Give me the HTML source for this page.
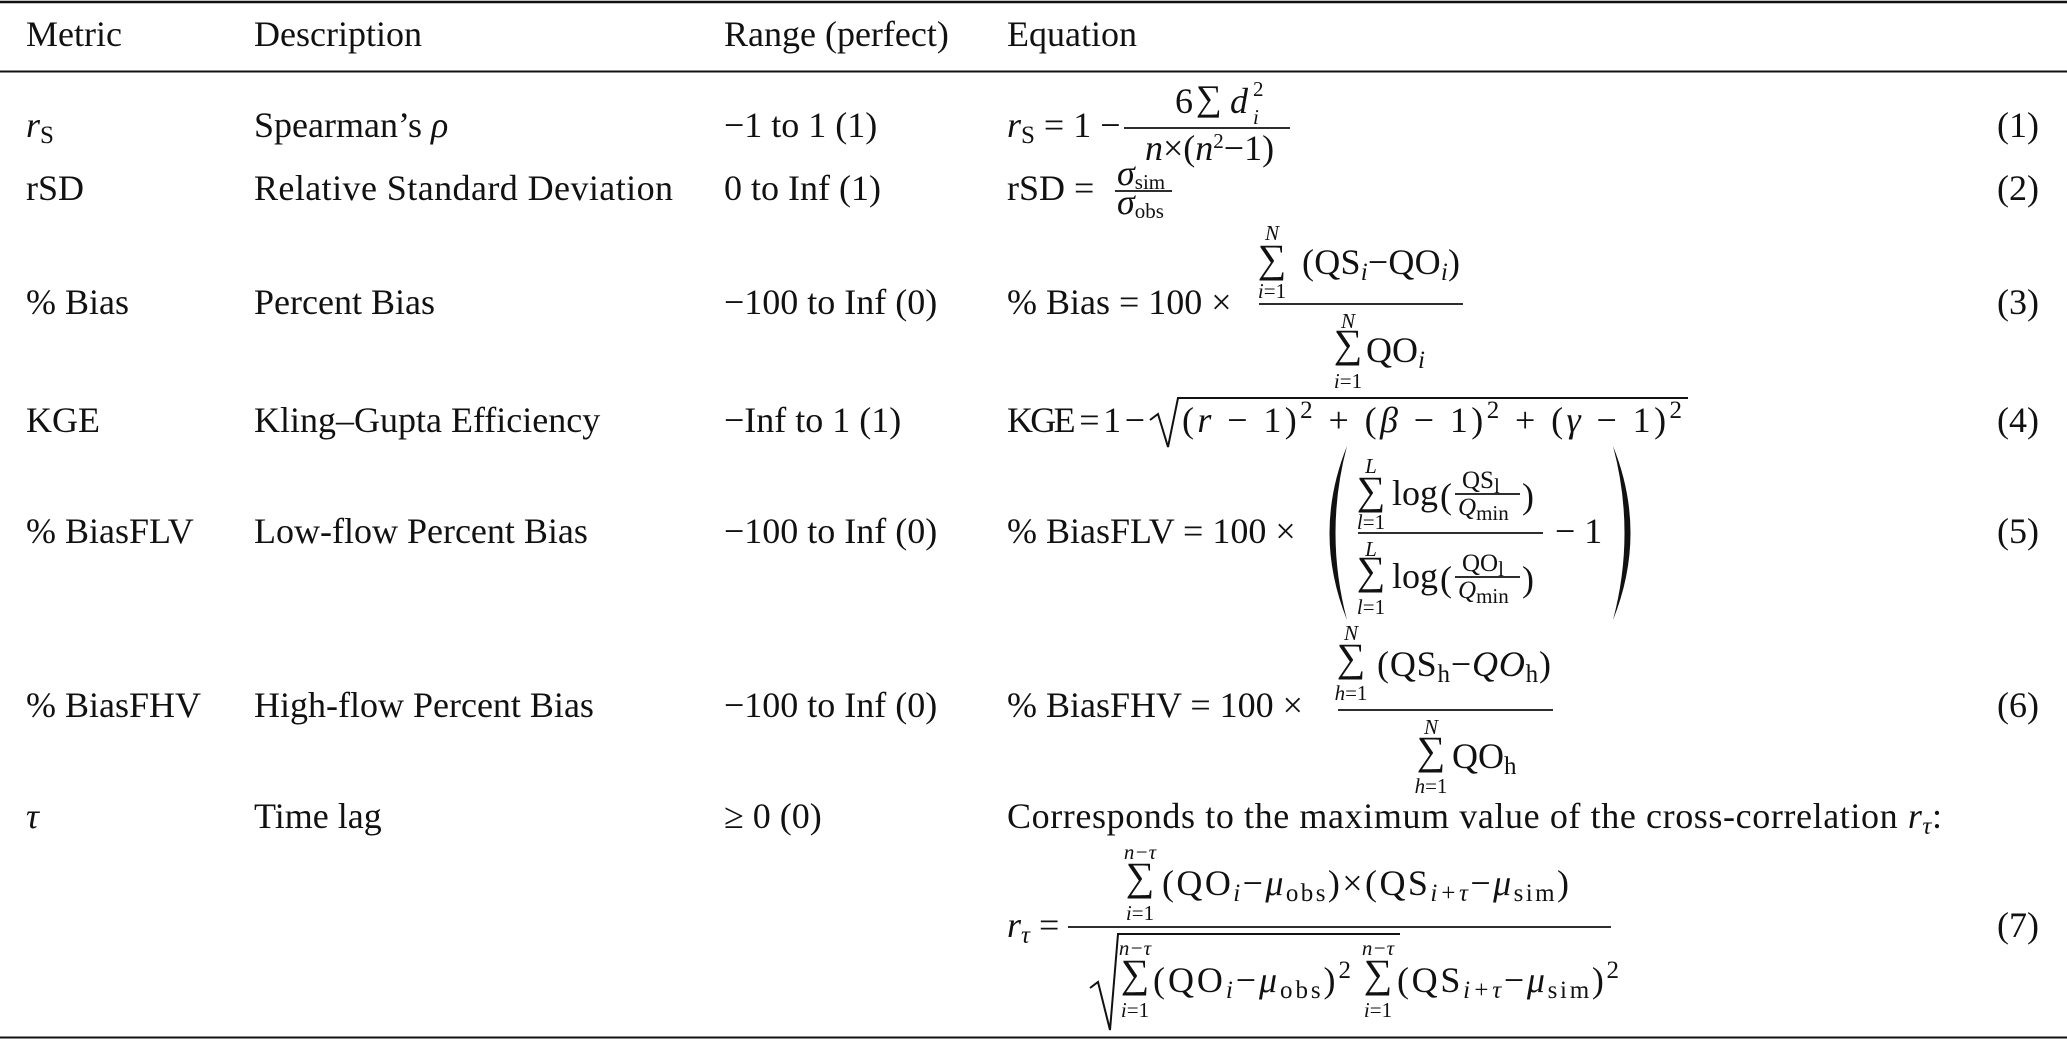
<!DOCTYPE html>
<html><head><meta charset="utf-8"><style>
html,body{margin:0;padding:0;background:#fff;}
svg{display:block;}
text{font-family:"Liberation Serif","DejaVu Serif",serif;font-size:36px;fill:#111;}
.i{font-style:italic;}
.s{font-size:25px;}
.xs{font-size:21px;}
.sg{font-size:40px;}
.m{text-anchor:middle;}
</style></head><body>
<svg width="2067" height="1041" viewBox="0 0 2067 1041" xmlns="http://www.w3.org/2000/svg">
<rect x="0" y="0" width="2067" height="1041" fill="#fff"/>
<g stroke="#111" fill="none">
<line x1="0" y1="2" x2="2067" y2="2" stroke-width="2.5"/>
<line x1="0" y1="71.5" x2="2067" y2="71.5" stroke-width="2"/>
<line x1="0" y1="1037.5" x2="2067" y2="1037.5" stroke-width="2"/>
</g>
<!-- header -->
<text x="26" y="46">Metric</text>
<text x="254" y="46">Description</text>
<text x="724" y="46">Range (perfect)</text>
<text x="1007" y="46">Equation</text>

<!-- column texts -->
<text x="26" y="137"><tspan class="i">r</tspan><tspan class="s" dy="6">S</tspan></text>
<text x="254" y="137">Spearman’s <tspan class="i">ρ</tspan></text>
<text x="724" y="137">−1 to 1 (1)</text>

<text x="26" y="200">rSD</text>
<text x="254" y="200" textLength="419" lengthAdjust="spacing">Relative Standard Deviation</text>
<text x="724" y="200">0 to Inf (1)</text>

<text x="26" y="314">% Bias</text>
<text x="254" y="314">Percent Bias</text>
<text x="724" y="314">−100 to Inf (0)</text>

<text x="26" y="432">KGE</text>
<text x="254" y="432">Kling–Gupta Efficiency</text>
<text x="724" y="432">−Inf to 1 (1)</text>

<text x="26" y="543">% BiasFLV</text>
<text x="254" y="543">Low-flow Percent Bias</text>
<text x="724" y="543">−100 to Inf (0)</text>

<text x="26" y="717">% BiasFHV</text>
<text x="254" y="717">High-flow Percent Bias</text>
<text x="724" y="717">−100 to Inf (0)</text>

<text x="26" y="828" class="i">τ</text>
<text x="254" y="828">Time lag</text>
<text x="724" y="828">≥ 0 (0)</text>

<!-- equation numbers -->
<text x="2039" y="137" text-anchor="end">(1)</text>
<text x="2039" y="200" text-anchor="end">(2)</text>
<text x="2039" y="314" text-anchor="end">(3)</text>
<text x="2039" y="432" text-anchor="end">(4)</text>
<text x="2039" y="543" text-anchor="end">(5)</text>
<text x="2039" y="717" text-anchor="end">(6)</text>
<text x="2039" y="937" text-anchor="end">(7)</text>

<g stroke="#111" stroke-width="1.8">
<line x1="1124" y1="128" x2="1290" y2="128"/>
<line x1="1115" y1="191" x2="1172" y2="191"/>
<line x1="1259" y1="304" x2="1463" y2="304"/>
<line x1="1358" y1="533" x2="1543" y2="533"/>
<line x1="1455" y1="494" x2="1520" y2="494"/>
<line x1="1455" y1="577" x2="1520" y2="577"/>
<line x1="1338" y1="710" x2="1553" y2="710"/>
<line x1="1068" y1="927" x2="1611" y2="927"/>
</g>

<!-- Eq1 -->
<text x="1007" y="137"><tspan class="i">r</tspan><tspan class="s" dy="6">S</tspan><tspan dy="-6"> = 1 −</tspan></text>
<text x="1175" y="113">6</text>
<text x="1196" y="110" font-size="30">∑</text>
<text x="1230" y="113" class="i">d</text>
<text x="1253" y="96" class="xs">2</text>
<text x="1253" y="124" class="xs i">i</text>
<text x="1145" y="160"><tspan class="i">n</tspan>×(<tspan class="i">n</tspan><tspan class="xs" dy="-12">2</tspan><tspan dy="12">−1)</tspan></text>

<!-- Eq2 -->
<text x="1007" y="200">rSD =</text>
<text x="1117" y="185" font-size="28"><tspan class="i">σ</tspan><tspan class="xs" dy="4">sim</tspan></text>
<text x="1117" y="214" font-size="28"><tspan class="i">σ</tspan><tspan class="xs" dy="4">obs</tspan></text>

<!-- Eq3 -->
<text x="1007" y="314">% Bias = 100 ×</text>
<text x="1272" y="240" class="xs i m">N</text>
<text x="1272" y="272" class="sg m">∑</text>
<text x="1302" y="274" textLength="158" lengthAdjust="spacing">(QS<tspan class="s i" dy="6">i</tspan><tspan dy="-6">−QO</tspan><tspan class="s i" dy="6">i</tspan><tspan dy="-6">)</tspan></text>
<text x="1272" y="298" class="xs m"><tspan class="i">i</tspan>=1</text>
<text x="1348" y="328" class="xs i m">N</text>
<text x="1348" y="357" class="sg m">∑</text>
<text x="1366" y="362">QO<tspan class="s i" dy="6">i</tspan></text>
<text x="1348" y="388" class="xs m"><tspan class="i">i</tspan>=1</text>

<!-- Eq4 -->
<text x="1007" y="432" textLength="138" lengthAdjust="spacing">KGE = 1 −</text>
<path d="M1150 420 L1158 414 L1168 447 L1178 398 L1688 398" stroke="#111" stroke-width="2" fill="none"/>
<text x="1182" y="432" textLength="500" lengthAdjust="spacing">(<tspan class="i">r</tspan> − 1)<tspan class="s" dy="-14">2</tspan><tspan dy="14"> + (</tspan><tspan class="i">β</tspan> − 1)<tspan class="s" dy="-14">2</tspan><tspan dy="14"> + (</tspan><tspan class="i">γ</tspan> − 1)<tspan class="s" dy="-14">2</tspan></text>

<!-- Eq5 -->
<text x="1007" y="543">% BiasFLV = 100 ×</text>
<path d="M1347 446 Q1312 533 1347 620 Q1324 533 1347 446 Z" fill="#111"/>
<path d="M1613 446 Q1648 533 1613 620 Q1636 533 1613 446 Z" fill="#111"/>
<text x="1371" y="473" class="xs i m">L</text>
<text x="1371" y="504" class="sg m">∑</text>
<text x="1392" y="505">log</text>
<text x="1440" y="508" font-size="44">(</text>
<text x="1522" y="508" font-size="44">)</text>
<text x="1462" y="488" class="s">QS<tspan class="xs" dy="5">l</tspan></text>
<text x="1458" y="515" class="s"><tspan class="i">Q</tspan><tspan class="xs" dy="5">min</tspan></text>
<text x="1371" y="529" class="xs m"><tspan class="i">l</tspan>=1</text>
<text x="1555" y="543">− 1</text>
<text x="1371" y="556" class="xs i m">L</text>
<text x="1371" y="584" class="sg m">∑</text>
<text x="1392" y="588">log</text>
<text x="1440" y="591" font-size="44">(</text>
<text x="1522" y="591" font-size="44">)</text>
<text x="1462" y="571" class="s">QO<tspan class="xs" dy="5">l</tspan></text>
<text x="1458" y="598" class="s"><tspan class="i">Q</tspan><tspan class="xs" dy="5">min</tspan></text>
<text x="1371" y="614" class="xs m"><tspan class="i">l</tspan>=1</text>

<!-- Eq6 -->
<text x="1007" y="717">% BiasFHV = 100 ×</text>
<text x="1351" y="640" class="xs i m">N</text>
<text x="1351" y="671" class="sg m">∑</text>
<text x="1377" y="676" textLength="174" lengthAdjust="spacing">(QS<tspan class="s" dy="6">h</tspan><tspan dy="-6">−</tspan><tspan class="i">QO</tspan><tspan class="s" dy="6">h</tspan><tspan dy="-6">)</tspan></text>
<text x="1351" y="700" class="xs m"><tspan class="i">h</tspan>=1</text>
<text x="1431" y="734" class="xs i m">N</text>
<text x="1431" y="764" class="sg m">∑</text>
<text x="1452" y="768">QO<tspan class="s" dy="6">h</tspan></text>
<text x="1431" y="793" class="xs m"><tspan class="i">h</tspan>=1</text>

<!-- tau -->
<text x="1007" y="828" textLength="935" lengthAdjust="spacing">Corresponds to the maximum value of the cross-correlation <tspan class="i">r</tspan><tspan class="s i" dy="6">τ</tspan><tspan dy="-6">:</tspan></text>

<!-- Eq7 -->
<text x="1007" y="937"><tspan class="i">r</tspan><tspan class="s i" dy="6">τ</tspan><tspan dy="-6"> =</tspan></text>
<text x="1140" y="859" class="xs i m">n−τ</text>
<text x="1140" y="890" class="sg m">∑</text>
<text x="1162" y="895" textLength="407" lengthAdjust="spacing">(QO<tspan class="s i" dy="6">i</tspan><tspan dy="-6">−</tspan><tspan class="i">μ</tspan><tspan class="s" dy="6">obs</tspan><tspan dy="-6">)×(QS</tspan><tspan class="s i" dy="6">i+τ</tspan><tspan dy="-6">−</tspan><tspan class="i">μ</tspan><tspan class="s" dy="6">sim</tspan><tspan dy="-6">)</tspan></text>
<text x="1140" y="920" class="xs m"><tspan class="i">i</tspan>=1</text>
<path d="M1090 988 L1098 982 L1110 1030 L1118 934 L1400 934" stroke="#111" stroke-width="2" fill="none"/>
<text x="1135" y="955" class="xs i m">n−τ</text>
<text x="1135" y="987" class="sg m">∑</text>
<text x="1153" y="992" textLength="198" lengthAdjust="spacing">(QO<tspan class="s i" dy="6">i</tspan><tspan dy="-6">−</tspan><tspan class="i">μ</tspan><tspan class="s" dy="6">obs</tspan><tspan dy="-6">)</tspan><tspan class="s" dy="-14">2</tspan></text>
<text x="1135" y="1017" class="xs m"><tspan class="i">i</tspan>=1</text>
<text x="1378" y="955" class="xs i m">n−τ</text>
<text x="1378" y="987" class="sg m">∑</text>
<text x="1397" y="992" textLength="222" lengthAdjust="spacing">(QS<tspan class="s i" dy="6">i+τ</tspan><tspan dy="-6">−</tspan><tspan class="i">μ</tspan><tspan class="s" dy="6">sim</tspan><tspan dy="-6">)</tspan><tspan class="s" dy="-14">2</tspan></text>
<text x="1378" y="1017" class="xs m"><tspan class="i">i</tspan>=1</text>
</svg>
</body></html>
